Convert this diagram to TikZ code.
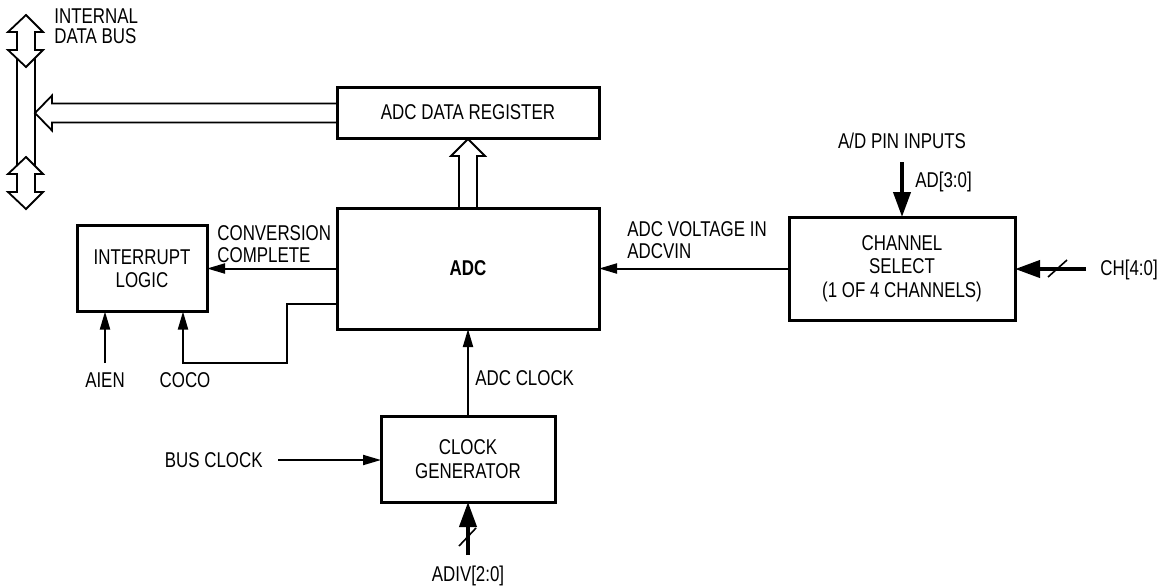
\documentclass[tikz,border=0pt]{standalone}
\usepackage{fontspec}
\setmainfont{Liberation Sans}[FakeStretch=0.79]
\usetikzlibrary{positioning, arrows.meta}
\newcommand{\diagfont}{\fontsize{10.7pt}{11pt}\selectfont}
\newcommand{\blockfont}{\fontsize{10.7pt}{11.75pt}\selectfont}
\tikzstyle{block} = [rectangle, draw, line width=1.5pt, outer sep=0pt, align=center, font=\blockfont]
\tikzstyle{lbl} = [inner sep=0pt, align=left, font=\diagfont]
\tikzstyle{arrow} = [line width=1pt, -{Triangle[length=9pt, width=5pt]}]
\tikzstyle{wide} = [line width=2pt, -{Triangle[length=12.5pt, width=8.5pt]}]
\tikzstyle{hollow} = [line width=0.9pt, line join=miter]
\tikzstyle{slash} = [line width=0.8pt]

\begin{document}
\begin{tikzpicture}[x=0.5pt, y=-0.5pt]
  \useasboundingbox (0,0) rectangle (1166,586);

  % Blocks
  \node (adc) [block, minimum width=131pt, minimum height=60.5pt, font=\blockfont\bfseries] at (468,268.5) {ADC};
  \node (reg) [block, minimum width=131pt, minimum height=25.5pt, above=35pt of adc] {ADC DATA REGISTER};
  \node (intr) [block, minimum width=65pt, minimum height=43pt, left=65pt of adc] {INTERRUPT\\LOGIC};
  \node (chsel) [block, minimum width=113pt, minimum height=51.5pt, right=95pt of adc] {CHANNEL\\SELECT\\(1 OF 4 CHANNELS)};
  \node (clk) [block, minimum width=87pt, minimum height=43pt, below=43.5pt of adc] {CLOCK\\GENERATOR};

  % Free ends
  \coordinate (adin) at (902,162);
  \coordinate (chin) at (1086,269);
  \coordinate (busclk) at (278,460);
  \coordinate (adivin) at (468,555);
  \coordinate (aien) at (105,363);
  \coordinate (cocobend) at (287,363);

  % Labels
  \node (bus) [lbl, anchor=north west, font=\fontsize{10.7pt}{10pt}\selectfont] at (54,8) {INTERNAL\\DATA BUS};
  \node (conv) [lbl, anchor=north west] at (217,225) {CONVERSION\\COMPLETE};
  \node (vin) [lbl, anchor=north west] at (627,221) {ADC VOLTAGE IN\\ADCVIN};
  \node (adpin) [lbl, anchor=base] at (902,148) {A/D PIN INPUTS};
  \node (adbits) [lbl, anchor=base west] at (915,187) {AD[3:0]};
  \node (chbits) [lbl, anchor=base west] at (1100,275) {CH[4:0]};
  \node (aienl) [lbl, anchor=base] at (105,387) {AIEN};
  \node (cocol) [lbl, anchor=base] at (185,387) {COCO};
  \node (adcclk) [lbl, anchor=base west] at (475,385) {ADC CLOCK};
  \node (busclkl) [lbl, anchor=base east] at (263,467) {BUS CLOCK};
  \node (adivl) [lbl, anchor=base] at (468,581) {ADIV[2:0]};

  % Internal data bus
  \foreach \ty in {15,157}
    \draw[hollow] (26,\ty) -- ++(17,17) -- ++(-8,0) -- ++(0,18) -- ++(8,0) -- ++(-17,17)
      -- ++(-18,-17) -- ++(9,0) -- ++(0,-18) -- ++(-9,0) -- cycle;
  \draw[hollow] (17,58.5) -- (17,165.5);
  \draw[hollow] (35,58) -- (35,165.5);

  % Hollow data paths
  \draw[hollow] ([yshift=4.5pt]reg.west) -- ++(-285,0) -- ++(0,-8) -- ++(-17,17.5)
    -- ++(17,17.5) -- ++(0,-8) -- ++(285,0);
  \draw[hollow] ([xshift=-4.5pt]adc.north) -- ++(0,-52) -- ++(-8,0) -- ++(17,-17)
    -- ++(17,17) -- ++(-8,0) -- ++(0,52);

  % Signals
  \draw[arrow] (adc.west) -- (adc.west -| intr.east);
  \draw[arrow] ([yshift=12.5pt]adc.south west) -| (cocobend) -| ([xshift=20.5pt]intr.south);
  \draw[arrow] (aien) -- (aien |- intr.south);
  \draw[arrow] (chsel.west) -- (adc.east);
  \draw[wide] (adin) -- (chsel.north);
  \draw[wide] (chin) -- (chin -| chsel.east);
  \draw[slash] (1048,277) -- (1067,260);
  \draw[arrow] (clk.north) -- (adc.south);
  \draw[arrow] (busclk) -- (busclk -| clk.west);
  \draw[wide] (adivin) -- (clk.south);
  \draw[slash] (459,546) -- (476,528);

\end{tikzpicture}
\end{document}
